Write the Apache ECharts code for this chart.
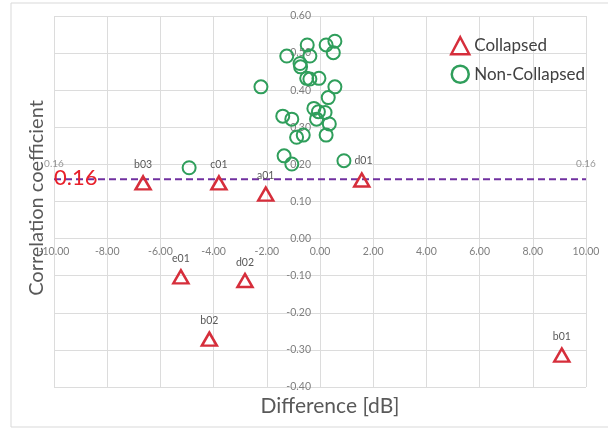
<!DOCTYPE html>
<html><head><meta charset="utf-8">
<script src="https://cdn.jsdelivr.net/npm/echarts@6/dist/echarts.min.js"></script>
<style>html,body{margin:0;padding:0;background:#fff;}#c{width:608px;height:428px;}</style>
</head><body><div id="c"></div>
<script>
// Collapsed (triangles)
var collapsedNames = ['b03','c01','a01','d01','e01','d02','b02','b01'];
var collapsedX = [-6.65, -3.8, -2.04, 1.57, -5.23, -2.82, -4.16, 9.09];
var collapsedY = [0.15, 0.15, 0.12, 0.158, -0.103, -0.113, -0.271, -0.314];
var collapsedShowLabel = [true, true, true, false, true, true, true, true];
// Non-collapsed (circles)
var nonX = [-4.92, -2.22, -1.25, -0.48, -0.38, 0.23, 0.56, 0.50, -0.75, -0.73, -0.50, -0.38, -0.04, 0.56, 0.31,
            -1.40, -1.06, -0.23, -0.06, 0.19, -0.13, 0.35, -0.63, -0.88, 0.23, -1.35, -1.06, 0.90];
var nonY = [0.191, 0.409, 0.492, 0.522, 0.492, 0.522, 0.532, 0.501, 0.472, 0.463, 0.432, 0.430, 0.432, 0.409, 0.380,
            0.330, 0.322, 0.351, 0.342, 0.340, 0.322, 0.309, 0.279, 0.273, 0.279, 0.223, 0.201, 0.210];
var nonLabels = ['', '', '', '', '', '', '', '', '', '', '', '', '', '', '', '', '', '', '', '', '', '', '', '', '', '', '', 'd01'];
// Threshold line
var thresholdValue = 0.16;
var thresholdX = [-10, 10];
var xTicks = {min: -10, max: 10, interval: 2};
var yTicks = {min: -0.4, max: 0.6, interval: 0.1};

var W = 608, H = 428;
var gridL = 54, gridR = 22, gridT = 16, gridB = 41;
var plotW = W - gridL - gridR, plotH = H - gridT - gridB;
// shift axes so that they cross at zero (axis labels sit on the zero lines)
var xAxisOffset = -plotH * (0 - yTicks.min) / (yTicks.max - yTicks.min);
var yAxisOffset = -plotW * (0 - xTicks.min) / (xTicks.max - xTicks.min);

var chart = echarts.init(document.getElementById('c'), null, {renderer: 'canvas'});
var font = 'Lato, "Open Sans", sans-serif';
var red = '#D62E3B', green = '#2F9E5B', purple = '#7030A0';

var collData = collapsedX.map(function (x, i) {
  return {value: [x, collapsedY[i]], name: collapsedNames[i], label: {show: collapsedShowLabel[i]}};
});
var nonData = nonX.map(function (x, i) {
  return {value: [x, nonY[i]], name: nonLabels[i], label: {show: nonLabels[i] !== ''}};
});

chart.setOption({
  animation: false,
  backgroundColor: '#fff',
  grid: {left: gridL, right: gridR, top: gridT, bottom: gridB},
  xAxis: {
    type: 'value', min: xTicks.min, max: xTicks.max, interval: xTicks.interval,
    position: 'bottom', offset: xAxisOffset,
    axisLine: {show: false, onZero: false},
    axisTick: {show: false},
    axisLabel: {color: '#7f7f7f', fontSize: 10.5, fontFamily: font, margin: 8,
      formatter: function (v) { return v.toFixed(2); }},
    splitLine: {show: true, lineStyle: {color: '#dcdcdc'}}
  },
  yAxis: {
    type: 'value', min: yTicks.min, max: yTicks.max, interval: yTicks.interval,
    position: 'left', offset: yAxisOffset,
    axisLine: {show: false, onZero: false},
    axisTick: {show: false},
    axisLabel: {color: '#7f7f7f', fontSize: 10.5, fontFamily: font, margin: 9,
      formatter: function (v) { return v.toFixed(2); }},
    splitLine: {show: true, lineStyle: {color: '#dcdcdc'}}
  },
  legend: {
    orient: 'vertical', left: 445, top: 31, itemGap: 9, itemWidth: 18, itemHeight: 17,
    textStyle: {fontSize: 17, color: '#404040', fontFamily: font},
    data: [
      {name: 'Collapsed', icon: 'triangle', itemStyle: {color: 'rgba(0,0,0,0)', borderColor: red, borderWidth: 2.5}},
      {name: 'Non-Collapsed', icon: 'circle', itemStyle: {color: 'rgba(0,0,0,0)', borderColor: green, borderWidth: 2.5}}
    ]
  },
  series: [
    {
      type: 'line', name: 'threshold', data: thresholdX.map(function (x) { return [x, thresholdValue]; }),
      symbol: 'none', silent: true,
      lineStyle: {color: purple, width: 2, type: [7, 4]},
      label: {show: false}, z: 1
    },
    {
      type: 'scatter', name: 'threshold-labels', silent: true,
      data: thresholdX.map(function (x) { return [x, thresholdValue]; }),
      symbolSize: 0,
      label: {show: true, position: 'top', distance: 10, color: '#7f7f7f', fontSize: 10, fontFamily: font,
        formatter: function () { return thresholdValue.toFixed(2); }}
    },
    {
      type: 'scatter', name: 'Non-Collapsed', data: nonData, symbol: 'circle', symbolSize: 13,
      itemStyle: {color: 'rgba(0,0,0,0)', borderColor: green, borderWidth: 2, opacity: 1},
      label: {position: 'right', distance: 3, color: '#595959', fontSize: 10.5, fontFamily: font,
        formatter: function (p) { return p.name; }},
      z: 3
    },
    {
      type: 'scatter', name: 'Collapsed', data: collData, symbol: 'triangle', symbolSize: [15, 13],
      itemStyle: {color: 'rgba(0,0,0,0)', borderColor: red, borderWidth: 2.5, opacity: 1},
      label: {position: 'top', distance: 5, color: '#595959', fontSize: 10.5, fontFamily: font,
        formatter: function (p) { return p.name; }},
      z: 4
    }
  ],
  graphic: [
    {type: 'rect', shape: {x: 11, y: 3, width: 620, height: 424}, style: {fill: 'none', stroke: '#d9d9d9', lineWidth: 1}, silent: true, z: -1},
    {type: 'text', x: 37, y: 198, rotation: Math.PI / 2,
      style: {text: 'Correlation coefficient', fill: '#595959', font: '20px ' + font, textAlign: 'center', textVerticalAlign: 'middle'}},
    {type: 'text', x: 330, y: 406,
      style: {text: 'Difference [dB]', fill: '#595959', font: '21px ' + font, textAlign: 'center', textVerticalAlign: 'middle'}},
    {type: 'text', x: 54, y: 178,
      style: {text: thresholdValue.toFixed(2), fill: '#E8202A', font: '22px ' + font, textAlign: 'left', textVerticalAlign: 'middle'}, z: 10}
  ]
});
</script></body></html>
